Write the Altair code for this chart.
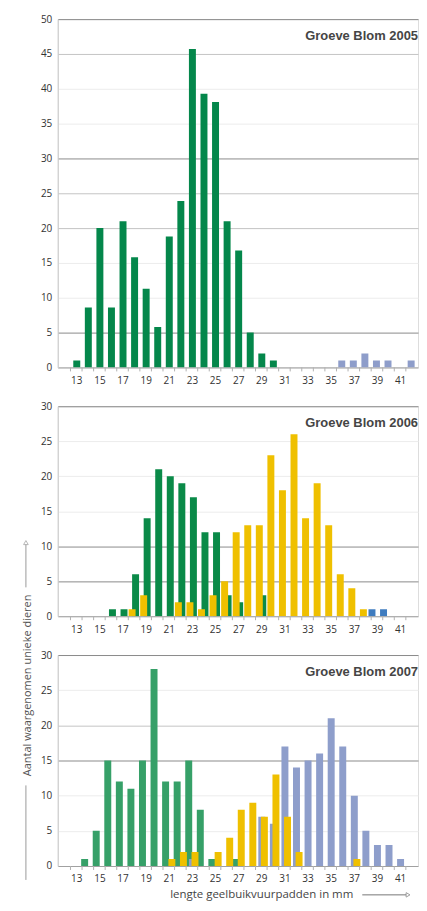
import altair as alt
import pandas as pd

# ---------------- data ----------------
panel_titles = ["Groeve Blom 2005", "Groeve Blom 2006", "Groeve Blom 2007"]

len_2005_green = [13, 14, 15, 16, 17, 18, 19, 20, 21, 22, 23, 24, 25, 26, 27, 28, 29, 30]
val_2005_green = [1, 8.6, 20, 8.6, 21, 15.8, 11.3, 5.8, 18.8, 23.9, 45.7, 39.3, 38.1, 21, 16.8, 5, 2, 1]
len_2005_blue = [36, 37, 38, 39, 40, 42]
val_2005_blue = [1, 1, 2, 1, 1, 1]

len_2006_green = [16, 17, 18, 19, 20, 21, 22, 23, 24, 25, 26, 27, 29]
val_2006_green = [1, 1, 6, 14, 21, 20, 19, 17, 12, 12, 3, 2, 3]
len_2006_yellow = [18, 19, 22, 23, 24, 25, 26, 27, 28, 29, 30, 31, 32, 33, 34, 35, 36, 37, 38]
val_2006_yellow = [1, 3, 2, 2, 1, 3, 5, 12, 13, 13, 23, 18, 26, 14, 19, 13, 6, 4, 1]
len_2006_blue = [39, 40]
val_2006_blue = [1, 1]

len_2007_green = [14, 15, 16, 17, 18, 19, 20, 21, 22, 23, 24, 25, 27]
val_2007_green = [1, 5, 15, 12, 11, 15, 28, 12, 12, 15, 8, 1, 1]
len_2007_blue = [23, 29, 30, 31, 32, 33, 34, 35, 36, 37, 38, 39, 40, 41]
val_2007_blue = [1, 7, 6, 17, 14, 15, 16, 21, 17, 10, 5, 3, 3, 1]
len_2007_yellow = [21, 22, 23, 25, 26, 27, 28, 29, 30, 31, 32, 37]
val_2007_yellow = [1, 2, 2, 2, 4, 8, 9, 7, 13, 7, 2, 1]

x_tick_labels = [13, 15, 17, 19, 21, 23, 25, 27, 29, 31, 33, 35, 37, 39, 41]
x_tick_marks = [12.5 + i for i in range(30)]
y_ticks_2005 = [0, 5, 10, 15, 20, 25, 30, 35, 40, 45, 50]
y_ticks_30 = [0, 5, 10, 15, 20, 25, 30]

y_title = "Aantal waargenomen unieke dieren"
x_title = "lengte  geelbuikvuurpadden in mm"

# ---------------- style ----------------
W = 362
X_DOMAIN = [11.83, 42.12]
FONT = "Open Sans"
TITLE_FONT = "Liberation Sans"

X_SCALE = alt.Scale(domain=X_DOMAIN, nice=False, zero=False)
X_AXIS = alt.Axis(values=x_tick_labels, ticks=False, labelPadding=8, grid=False,
                  domainColor="#a0a0a0", labelFlush=False, labelOverlap=False,
                  labelFont=FONT, labelFontSize=10, labelColor="#333333", title=None)


def grid_color(dark, medium):
    conds = []
    if dark:
        conds.append({"test": " || ".join(f"datum.value == {v}" for v in dark), "value": "#8a8a8a"})
    if medium:
        conds.append({"test": " || ".join(f"datum.value == {v}" for v in medium), "value": "#c4c4c4"})
    return {"condition": conds, "value": "#ececec"}


def bars(lengths, values, color, offset, ymax, yticks, gcol):
    df = pd.DataFrame({"len": lengths, "n": values})
    return alt.Chart(df).mark_bar(size=7, xOffset=offset, color=color, clip=True).encode(
        x=alt.X("len:Q", scale=X_SCALE, axis=X_AXIS),
        y=alt.Y("n:Q", scale=alt.Scale(domain=[0, ymax], nice=False),
                axis=alt.Axis(values=yticks, ticks=False, labelPadding=6, grid=True,
                              gridColor=gcol, domainColor="#cccccc", labelFont=FONT,
                              labelOverlap=False, labelFontSize=10, labelColor="#333333",
                              title=None)),
    )


def tick_marks(height):
    df = pd.DataFrame({"len": x_tick_marks})
    return alt.Chart(df).mark_rule(color="#b0b0b0", strokeWidth=1).encode(
        x=alt.X("len:Q", scale=X_SCALE, axis=X_AXIS),
        y=alt.value(height), y2=alt.value(height + 4))


def panel_title(text):
    df = pd.DataFrame({"t": [text]})
    return alt.Chart(df).mark_text(align="right", baseline="middle", font=TITLE_FONT,
                                   fontSize=13, fontWeight="bold", color="#454545").encode(
        text="t:N", x=alt.value(W), y=alt.value(17))


one = pd.DataFrame({"a": [0]})

H1, H2, H3 = 350, 211, 212

p1 = alt.layer(
    bars(len_2005_green, val_2005_green, "#04874b", 0.5, 50, y_ticks_2005,
         grid_color([5, 30, 50], [25, 45, 20])),
    bars(len_2005_blue, val_2005_blue, "#8e9dca", -0.5, 50, y_ticks_2005,
         grid_color([5, 30, 50], [25, 45, 20])),
    tick_marks(H1),
    panel_title(panel_titles[0]),
).properties(width=W, height=H1)

g2 = grid_color([5, 10, 30], [])
p2 = alt.layer(
    bars(len_2006_green, val_2006_green, "#0a8a48", 1.5, 30, y_ticks_30, g2),
    bars(len_2006_yellow, val_2006_yellow, "#efc000", -2, 30, y_ticks_30, g2),
    bars(len_2006_blue, val_2006_blue, "#3f7cbf", -5, 30, y_ticks_30, g2),
    tick_marks(H2),
    panel_title(panel_titles[1]),
).properties(width=W, height=H2)

g3 = grid_color([15, 30], [20])
ytitle_text = alt.Chart(pd.DataFrame({"t": [y_title]})).mark_text(
    angle=270, align="center", baseline="middle", font=FONT, fontSize=11, color="#555555").encode(
    text="t:N", x=alt.value(-30), y=alt.value(30.5))
ytitle_line_top = alt.Chart(one).mark_rule(color="#999999").encode(
    x=alt.value(-32), y=alt.value(-111), y2=alt.value(-68))
ytitle_line_bottom = alt.Chart(one).mark_rule(color="#999999").encode(
    x=alt.value(-32), y=alt.value(131), y2=alt.value(226))
ytitle_arrow = alt.Chart(one).mark_point(shape="triangle-up", filled=False, size=22,
                                         color="#999999", strokeWidth=1).encode(
    x=alt.value(-32), y=alt.value(-113))
xtitle_text = alt.Chart(pd.DataFrame({"t": [x_title]})).mark_text(
    align="left", baseline="middle", font=FONT, fontSize=11.5, color="#444444").encode(
    text="t:N", x=alt.value(113), y=alt.value(241))
xtitle_line = alt.Chart(one).mark_rule(color="#777777").encode(
    x=alt.value(306), x2=alt.value(350), y=alt.value(241))
xtitle_arrow = alt.Chart(one).mark_point(shape="triangle-right", filled=False, size=20,
                                         color="#777777", strokeWidth=1).encode(
    x=alt.value(352), y=alt.value(241))

p3 = alt.layer(
    bars(len_2007_green, val_2007_green, "#36a068", -3.2, 30, y_ticks_30, g3),
    bars(len_2007_blue, val_2007_blue, "#8e9ecb", 0.5, 30, y_ticks_30, g3),
    bars(len_2007_yellow, val_2007_yellow, "#efc000", 3.1, 30, y_ticks_30, g3),
    tick_marks(H3),
    panel_title(panel_titles[2]),
    ytitle_text, ytitle_line_top, ytitle_line_bottom, ytitle_arrow,
    xtitle_text, xtitle_line, xtitle_arrow,
).properties(width=W, height=H3)

chart = alt.vconcat(p1, p2, p3, spacing=39, bounds="flush").properties(
    padding={"left": 13, "top": 3, "right": 0, "bottom": 0}
).configure_view(strokeWidth=0).configure(background="white")

chart.save("out.html", embed_options={"renderer": "svg", "actions": False})
